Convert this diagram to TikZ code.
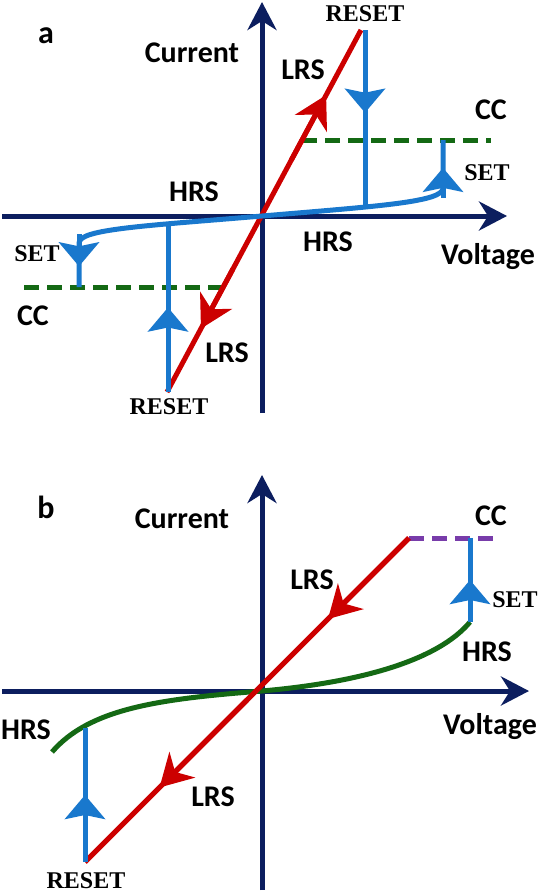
\documentclass[tikz,border=0pt]{standalone}
\usepackage{fontspec}
\setmainfont{Liberation Serif}
\newfontfamily\lblfont{Carlito}
\usetikzlibrary{arrows.meta,calc}

\definecolor{axisblue}{RGB}{12,30,95}
\definecolor{lrsred}{RGB}{204,0,0}
\definecolor{setblue}{RGB}{25,120,205}
\definecolor{ccgreen}{RGB}{20,105,20}
\definecolor{ccpurple}{RGB}{120,60,170}

\tikzset{
  axisline/.style={draw=axisblue, line width=5pt, -{Stealth[length=28pt,width=29pt,inset=9pt]}},
  redline/.style={draw=lrsred, line width=5pt},
  blueline/.style={draw=setblue, line width=5pt},
  greenline/.style={draw=ccgreen, line width=5pt},
  dashcc/.style={line width=5pt, dash pattern=on 15pt off 8pt},
  sanslbl/.style={font={\lblfont\bfseries\fontsize{30}{30}\selectfont}, inner sep=0pt},
  panellbl/.style={font={\lblfont\bfseries\fontsize{32}{32}\selectfont}, inner sep=0pt},
  seriflbl/.style={font={\bfseries\fontsize{24}{24}\selectfont}, inner sep=0pt},
  redhead/.style={draw=lrsred, fill=lrsred, line width=5pt, -{Stealth[length=32pt,width=36pt,inset=10pt]}},
  bluehead/.style={draw=setblue, fill=setblue, line width=5pt, -{Stealth[length=24pt,width=40pt,inset=4pt]}},
}

\begin{document}
\begin{tikzpicture}[x=1pt,y=-1pt]
\fill[white] (0,0) rectangle (540,894);
\useasboundingbox (0,0) rectangle (540,894);

% ---------------- panel a ----------------
\coordinate (aVb) at (262,413);
\coordinate (aVt) at (262,2);
\coordinate (aHl) at (2,216);
\coordinate (aHr) at (507,216);
\coordinate (aO) at (262,216);
\coordinate (aRt) at (361,30);
\coordinate (aRb) at (167,392);
\coordinate (aRo) at (261.3,216);
\coordinate (aBt) at (365,30);
\coordinate (aBb) at (365,206);
\coordinate (aS1) at (443,140);
\coordinate (aS2) at (443,188);
\coordinate (aS3) at (79,243);
\coordinate (aS4) at (79,287);
\coordinate (aLb) at (168,392);
\coordinate (aLt) at (168,223);
\coordinate (aC1) at (302,140);
\coordinate (aC2) at (491,140);
\coordinate (aC3) at (24,287);
\coordinate (aC4) at (223,287);

\draw[axisline] (aVb) -- (aVt);
\draw[axisline] (aHl) -- (aHr);

\draw[dashcc, draw=ccgreen] (aC1) -- (aC2);
\draw[dashcc, draw=ccgreen] (aC3) -- (aC4);

\draw[redline] (aRb) -- (aRt);
\draw[redhead] ($(aRo)!0.3!(aRt)$) -- ($(aRo)!0.65!(aRt)$);
\draw[redhead] ($(aRo)!0.3!(aRb)$) -- ($(aRo)!0.64!(aRb)$);

\draw[blueline] (aS1) -- (aS2) .. controls (443,202) and (380,206) .. (aO)
  .. controls (144,226) and (79,229) .. (aS3) -- (aS4);
\draw[blueline] (aBt) -- (aBb);
\draw[blueline] (aLb) -- (aLt);
\draw[bluehead] ($(aS2)!-0.2!(aS1)$) -- ($(aS2)!0.42!(aS1)$);
\draw[bluehead] ($(aS3)!-0.2!(aS4)$) -- ($(aS3)!0.53!(aS4)$);
\draw[bluehead] ($(aBt)!0.1!(aBb)$) -- ($(aBt)!0.47!(aBb)$);
\draw[bluehead] ($(aLb)!0.2!(aLt)$) -- ($(aLb)!0.5!(aLt)$);

\node[panellbl] (la) at (46,36) {a};
\node[sanslbl] (aCur) at (192,53) {Current};
\node[seriflbl] (aRes1) at (365,14) {RESET};
\node[sanslbl] (aLrs1) at (303,70) {LRS};
\node[sanslbl] (aCc1) at (491,110) {CC};
\node[seriflbl] (aSet1) at (487,173) {SET};
\node[sanslbl] (aHrs1) at (194,192) {HRS};
\node[sanslbl] (aHrs2) at (328,242) {HRS};
\node[sanslbl] (aVol) at (488,257) {Voltage};
\node[seriflbl] (aSet2) at (37,254) {SET};
\node[sanslbl] (aCc2) at (33,316) {CC};
\node[sanslbl] (aLrs2) at (227,353) {LRS};
\node[seriflbl] (aRes2) at (169,407) {RESET};

% ---------------- panel b ----------------
\coordinate (bVb) at (262,890);
\coordinate (bVt) at (262,475);
\coordinate (bHl) at (2,691);
\coordinate (bHr) at (529,691);
\coordinate (bO) at (262,691);
\coordinate (bRt) at (409,538);
\coordinate (bRb) at (85,862);
\coordinate (bC2) at (496,538);
\coordinate (bBb) at (470,622);
\coordinate (bBt) at (470,538);
\coordinate (bLb) at (85,862);
\coordinate (bLt) at (85,728);
\coordinate (bG2) at (52,752);

\draw[axisline] (bVb) -- (bVt);
\draw[axisline] (bHl) -- (bHr);

\draw[dashcc, draw=ccpurple] (bRt) -- (bC2);
\draw[greenline] (bBb) .. controls (445,652) and (385,680) .. (bO)
  .. controls (160,699) and (90,708) .. (bG2);
\draw[redline] (bRt) -- (bRb);
\draw[redhead] ($(bRt)!0.0!(bRb)$) -- ($(bRt)!0.25!(bRb)$);
\draw[redhead] ($(bRt)!0.5!(bRb)$) -- ($(bRt)!0.77!(bRb)$);
\draw[blueline] (bBb) -- (bBt);
\draw[blueline] (bLb) -- (bLt);
\draw[bluehead] ($(bBb)!0.0!(bBt)$) -- ($(bBb)!0.5!(bBt)$);
\draw[bluehead] ($(bLb)!0.1!(bLt)$) -- ($(bLb)!0.5!(bLt)$);

\node[panellbl] (lb) at (46,507) {b};
\node[sanslbl] (bCur) at (182,519) {Current};
\node[sanslbl] (bCc) at (491,516) {CC};
\node[sanslbl] (bLrs1) at (312,580) {LRS};
\node[seriflbl] (bSet) at (515,600) {SET};
\node[sanslbl] (bHrs1) at (487,652) {HRS};
\node[sanslbl] (bVol) at (490,727) {Voltage};
\node[sanslbl] (bHrs2) at (26,730) {HRS};
\node[sanslbl] (bLrs2) at (213,797) {LRS};
\node[seriflbl] (bRes) at (86,881) {RESET};
\end{tikzpicture}
\end{document}
